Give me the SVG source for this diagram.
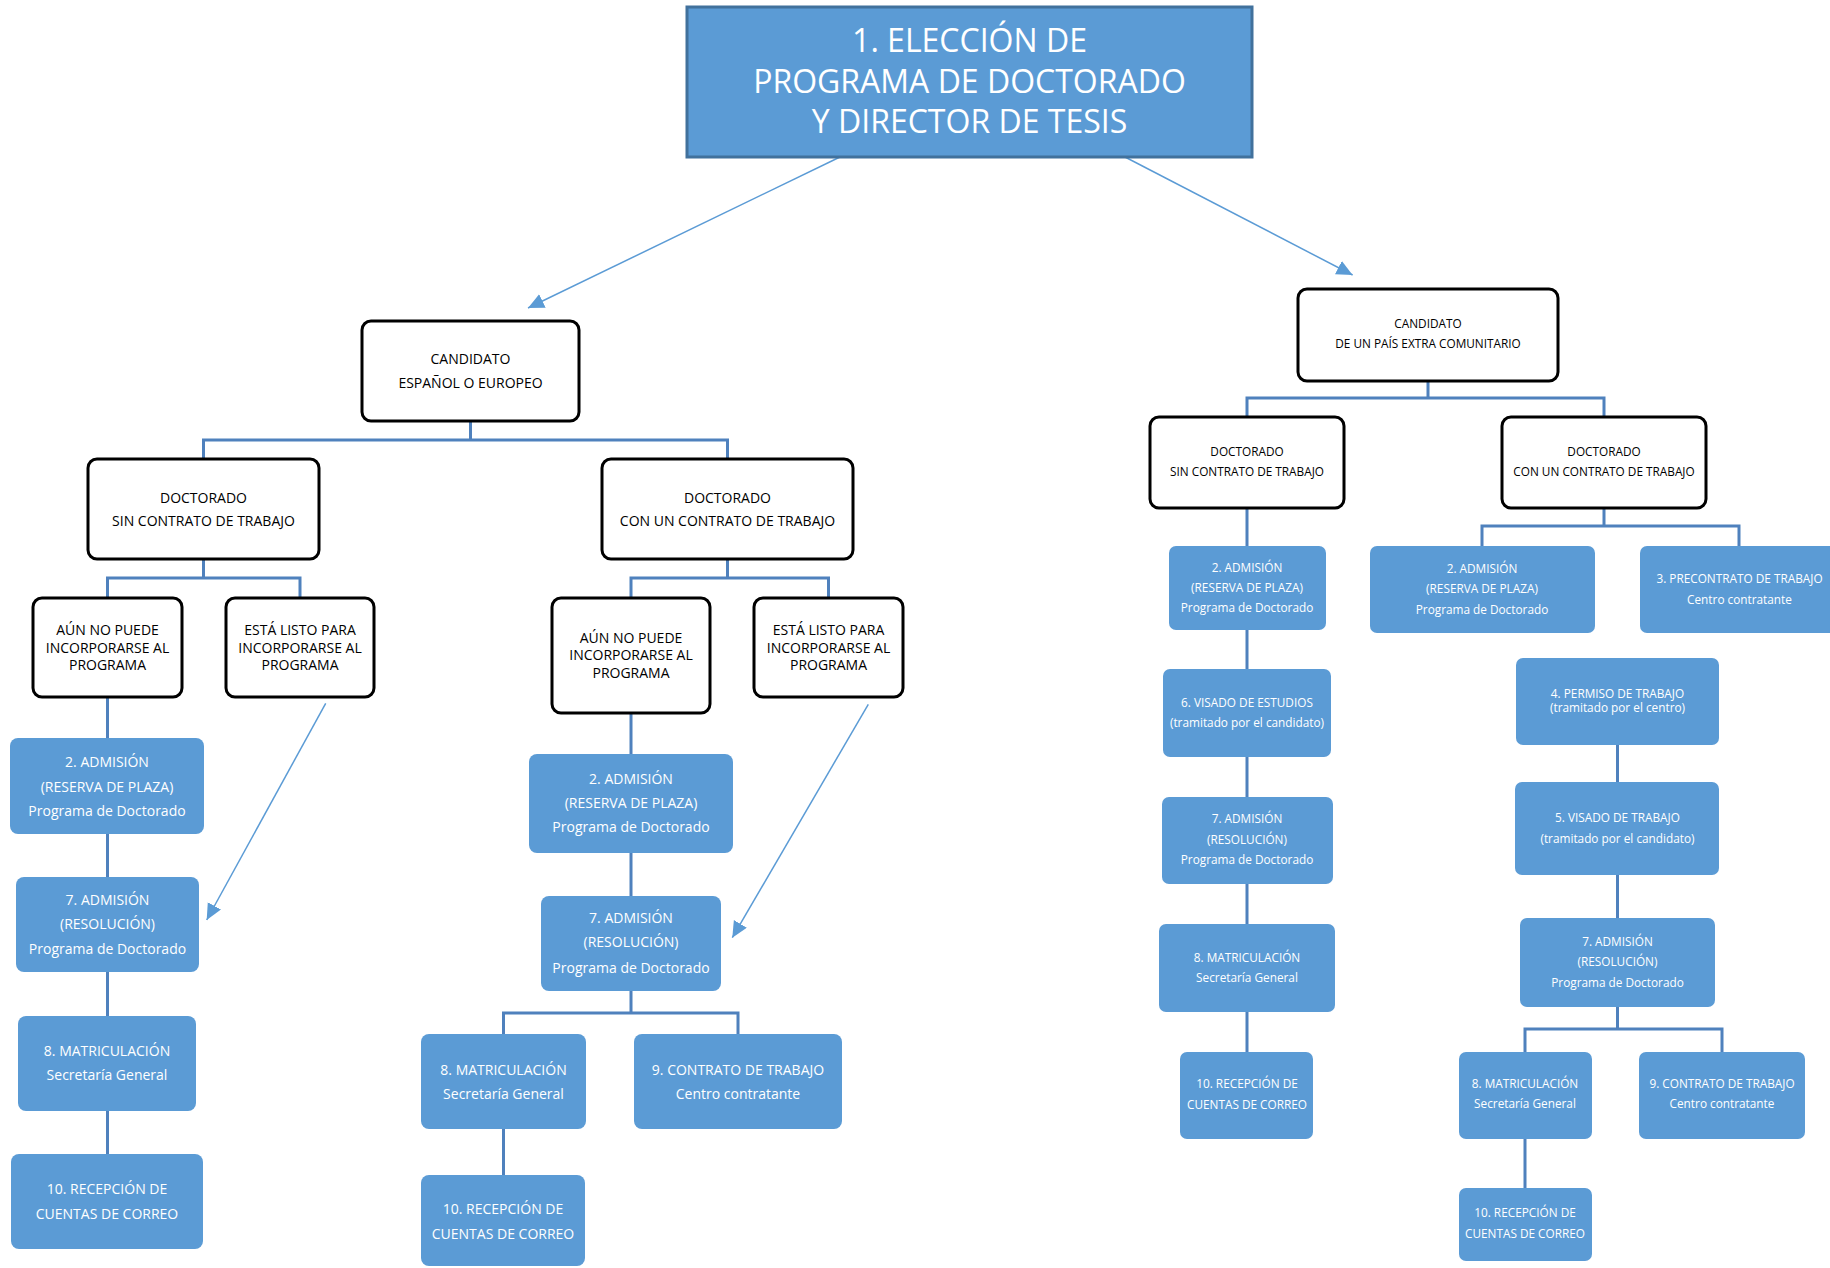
<svg xmlns="http://www.w3.org/2000/svg" width="1830" height="1268" viewBox="0 0 1830 1268">
<style>
.wb{fill:#fff;stroke:#000;stroke-width:3}
.bb{fill:#5B9BD5;stroke:none}
.cn{fill:none;stroke:#4F81BD;stroke-width:3}
.ar{fill:none;stroke:#5B9BD5;stroke-width:1.5;marker-end:url(#ah)}
text{font-family:"Open Sans","Liberation Sans",sans-serif;text-anchor:middle}
.k{fill:#000;font-size:14px}
.w{fill:#fff;font-size:14px}
.ks{fill:#000;font-size:11.8px}
.ws{fill:#fff;font-size:11.8px}
.tt{fill:#fff;font-size:32px}
</style>
<defs>
<marker id="ah" markerUnits="userSpaceOnUse" markerWidth="17" markerHeight="16" refX="16" refY="7.5" orient="auto">
<path d="M0,0 L16,7.5 L0,15 z" fill="#5B9BD5"/>
</marker>
</defs>
<rect width="1830" height="1268" fill="#fff"/>
<g id="connectors">
<path class="cn" d="M470.5 421 V440 M203.5 459 V440 H727.5 V459"/>
<path class="cn" d="M203.5 559 V578 M107.5 598 V578 H300 V598"/>
<path class="cn" d="M107.5 697 V738 M107.5 834 V877 M107.5 972 V1016 M107.5 1111 V1154"/>
<path class="cn" d="M727.5 559 V578 M631 598 V578 H828.5 V598"/>
<path class="cn" d="M631 713 V754 M631 853 V896 M631 991 V1013 M503.5 1034 V1013 H738 V1034 M503.5 1129 V1175"/>
<path class="cn" d="M1428 381 V398 M1247 417 V398 H1604 V417"/>
<path class="cn" d="M1247 508 V546 M1247 630 V669 M1247 757 V797 M1247 884 V924 M1247 1012 V1052"/>
<path class="cn" d="M1604 508 V526 M1482 546 V526 H1739 V546"/>
<path class="cn" d="M1617.5 745 V782 M1617.5 875 V918 M1617.5 1007 V1029 M1525 1052 V1029 H1722 V1052 M1525 1139 V1188"/>
<line class="ar" x1="840" y1="157" x2="528" y2="308"/>
<line class="ar" x1="1125" y1="157" x2="1352.6" y2="275"/>
<line class="ar" x1="325.7" y1="703.3" x2="206.7" y2="920"/>
<line class="ar" x1="868.3" y1="704.3" x2="732.3" y2="937.7"/>
</g>
<g id="title">
<rect x="687" y="7" width="565" height="150" fill="#5B9BD5" stroke="#41719C" stroke-width="3"/>
<text class="tt" x="969.5" y="52">1. ELECCIÓN DE</text>
<text class="tt" x="969.5" y="93">PROGRAMA DE DOCTORADO</text>
<text class="tt" x="969.5" y="133">Y DIRECTOR DE TESIS</text>
</g>
<g id="cand_eu">
<rect class="wb" x="362" y="321" width="217" height="100" rx="9"/>
<text class="k" x="470.5" y="364">CANDIDATO</text>
<text class="k" x="470.5" y="387.5">ESPAÑOL O EUROPEO</text>
</g>
<g id="l_sin">
<rect class="wb" x="88" y="459" width="231" height="100" rx="9"/>
<text class="k" x="203.5" y="502.5">DOCTORADO</text>
<text class="k" x="203.5" y="526">SIN CONTRATO DE TRABAJO</text>
</g>
<g id="l_aun">
<rect class="wb" x="33" y="598" width="149" height="99" rx="9"/>
<text class="k" x="107.5" y="635">AÚN NO PUEDE</text>
<text class="k" x="107.5" y="652.7">INCORPORARSE AL</text>
<text class="k" x="107.5" y="670">PROGRAMA</text>
</g>
<g id="l_esta">
<rect class="wb" x="226" y="598" width="148" height="99" rx="9"/>
<text class="k" x="300" y="635">ESTÁ LISTO PARA</text>
<text class="k" x="300" y="652.7">INCORPORARSE AL</text>
<text class="k" x="300" y="670">PROGRAMA</text>
</g>
<g id="l_2">
<rect class="bb" x="10" y="738" width="194" height="96" rx="8"/>
<text class="w" x="107" y="767.3">2. ADMISIÓN</text>
<text class="w" x="107" y="791.7">(RESERVA DE PLAZA)</text>
<text class="w" x="107" y="815.7">Programa de Doctorado</text>
</g>
<g id="l_7">
<rect class="bb" x="16" y="877" width="183" height="95" rx="8"/>
<text class="w" x="107.5" y="905">7. ADMISIÓN</text>
<text class="w" x="107.5" y="929">(RESOLUCIÓN)</text>
<text class="w" x="107.5" y="954.3">Programa de Doctorado</text>
</g>
<g id="l_8">
<rect class="bb" x="18" y="1016" width="178" height="95" rx="8"/>
<text class="w" x="107" y="1056">8. MATRICULACIÓN</text>
<text class="w" x="107" y="1080">Secretaría General</text>
</g>
<g id="l_10">
<rect class="bb" x="11" y="1154" width="192" height="95" rx="8"/>
<text class="w" x="107" y="1194.3">10. RECEPCIÓN DE</text>
<text class="w" x="107" y="1219">CUENTAS DE CORREO</text>
</g>
<g id="m_con">
<rect class="wb" x="602" y="459" width="251" height="100" rx="9"/>
<text class="k" x="727.5" y="502.5">DOCTORADO</text>
<text class="k" x="727.5" y="526">CON UN CONTRATO DE TRABAJO</text>
</g>
<g id="m_aun">
<rect class="wb" x="552" y="598" width="158" height="115" rx="9"/>
<text class="k" x="631" y="642.7">AÚN NO PUEDE</text>
<text class="k" x="631" y="660">INCORPORARSE AL</text>
<text class="k" x="631" y="677.7">PROGRAMA</text>
</g>
<g id="m_esta">
<rect class="wb" x="754" y="598" width="149" height="99" rx="9"/>
<text class="k" x="828.5" y="635">ESTÁ LISTO PARA</text>
<text class="k" x="828.5" y="652.7">INCORPORARSE AL</text>
<text class="k" x="828.5" y="670">PROGRAMA</text>
</g>
<g id="m_2">
<rect class="bb" x="529" y="754" width="204" height="99" rx="8"/>
<text class="w" x="631" y="784.3">2. ADMISIÓN</text>
<text class="w" x="631" y="808.3">(RESERVA DE PLAZA)</text>
<text class="w" x="631" y="832.3">Programa de Doctorado</text>
</g>
<g id="m_7">
<rect class="bb" x="541" y="896" width="180" height="95" rx="8"/>
<text class="w" x="631" y="923.3">7. ADMISIÓN</text>
<text class="w" x="631" y="947.3">(RESOLUCIÓN)</text>
<text class="w" x="631" y="972.7">Programa de Doctorado</text>
</g>
<g id="m_8">
<rect class="bb" x="421" y="1034" width="165" height="95" rx="8"/>
<text class="w" x="503.5" y="1075">8. MATRICULACIÓN</text>
<text class="w" x="503.5" y="1099">Secretaría General</text>
</g>
<g id="m_9">
<rect class="bb" x="634" y="1034" width="208" height="95" rx="8"/>
<text class="w" x="738" y="1075">9. CONTRATO DE TRABAJO</text>
<text class="w" x="738" y="1099">Centro contratante</text>
</g>
<g id="m_10">
<rect class="bb" x="421" y="1175" width="164" height="91" rx="8"/>
<text class="w" x="503" y="1214.3">10. RECEPCIÓN DE</text>
<text class="w" x="503" y="1239">CUENTAS DE CORREO</text>
</g>
<g id="cand_ext">
<rect class="wb" x="1298" y="289" width="260" height="92" rx="9"/>
<text class="ks" x="1428" y="328.3">CANDIDATO</text>
<text class="ks" x="1428" y="348.3">DE UN PAÍS EXTRA COMUNITARIO</text>
</g>
<g id="r_sin">
<rect class="wb" x="1150" y="417" width="194" height="91" rx="9"/>
<text class="ks" x="1247" y="456">DOCTORADO</text>
<text class="ks" x="1247" y="476">SIN CONTRATO DE TRABAJO</text>
</g>
<g id="r_con">
<rect class="wb" x="1502" y="417" width="204" height="91" rx="9"/>
<text class="ks" x="1604" y="456">DOCTORADO</text>
<text class="ks" x="1604" y="476">CON UN CONTRATO DE TRABAJO</text>
</g>
<g id="r_s2">
<rect class="bb" x="1169" y="546" width="157" height="84" rx="7"/>
<text class="ws" x="1247" y="571.7">2. ADMISIÓN</text>
<text class="ws" x="1247" y="592.3">(RESERVA DE PLAZA)</text>
<text class="ws" x="1247" y="612.3">Programa de Doctorado</text>
</g>
<g id="r_s6">
<rect class="bb" x="1163" y="669" width="168" height="88" rx="7"/>
<text class="ws" x="1247" y="706.7">6. VISADO DE ESTUDIOS</text>
<text class="ws" x="1247" y="726.7">(tramitado por el candidato)</text>
</g>
<g id="r_s7">
<rect class="bb" x="1162" y="797" width="171" height="87" rx="7"/>
<text class="ws" x="1247" y="823.3">7. ADMISIÓN</text>
<text class="ws" x="1247" y="844.3">(RESOLUCIÓN)</text>
<text class="ws" x="1247" y="864.3">Programa de Doctorado</text>
</g>
<g id="r_s8">
<rect class="bb" x="1159" y="924" width="176" height="88" rx="7"/>
<text class="ws" x="1247" y="961.7">8. MATRICULACIÓN</text>
<text class="ws" x="1247" y="981.7">Secretaría General</text>
</g>
<g id="r_s10">
<rect class="bb" x="1180" y="1052" width="133" height="87" rx="7"/>
<text class="ws" x="1247" y="1088.3">10. RECEPCIÓN DE</text>
<text class="ws" x="1247" y="1109.3">CUENTAS DE CORREO</text>
</g>
<g id="r_c2">
<rect class="bb" x="1370" y="546" width="225" height="87" rx="7"/>
<text class="ws" x="1482" y="572.7">2. ADMISIÓN</text>
<text class="ws" x="1482" y="593.3">(RESERVA DE PLAZA)</text>
<text class="ws" x="1482" y="614">Programa de Doctorado</text>
</g>
<g id="r_c3">
<rect class="bb" x="1640" y="546" width="200" height="87" rx="7"/>
<text class="ws" x="1739.5" y="583.3">3. PRECONTRATO DE TRABAJO</text>
<text class="ws" x="1739.5" y="604">Centro contratante</text>
</g>
<g id="r_c4">
<rect class="bb" x="1516" y="658" width="203" height="87" rx="7"/>
<text class="ws" x="1617.5" y="697.7">4. PERMISO DE TRABAJO</text>
<text class="ws" x="1617.5" y="711.7">(tramitado por el centro)</text>
</g>
<g id="r_c5">
<rect class="bb" x="1515" y="782" width="204" height="93" rx="7"/>
<text class="ws" x="1617.5" y="821.7">5. VISADO DE TRABAJO</text>
<text class="ws" x="1617.5" y="842.7">(tramitado por el candidato)</text>
</g>
<g id="r_c7">
<rect class="bb" x="1520" y="918" width="195" height="89" rx="7"/>
<text class="ws" x="1617.5" y="945.7">7. ADMISIÓN</text>
<text class="ws" x="1617.5" y="965.7">(RESOLUCIÓN)</text>
<text class="ws" x="1617.5" y="986.7">Programa de Doctorado</text>
</g>
<g id="r_c8">
<rect class="bb" x="1459" y="1052" width="133" height="87" rx="7"/>
<text class="ws" x="1525" y="1088.3">8. MATRICULACIÓN</text>
<text class="ws" x="1525" y="1108.3">Secretaría General</text>
</g>
<g id="r_c9">
<rect class="bb" x="1639" y="1052" width="166" height="87" rx="7"/>
<text class="ws" x="1722" y="1088.3">9. CONTRATO DE TRABAJO</text>
<text class="ws" x="1722" y="1108.3">Centro contratante</text>
</g>
<g id="r_c10">
<rect class="bb" x="1459" y="1188" width="133" height="73" rx="7"/>
<text class="ws" x="1525" y="1217.3">10. RECEPCIÓN DE</text>
<text class="ws" x="1525" y="1238.3">CUENTAS DE CORREO</text>
</g>
</svg>
